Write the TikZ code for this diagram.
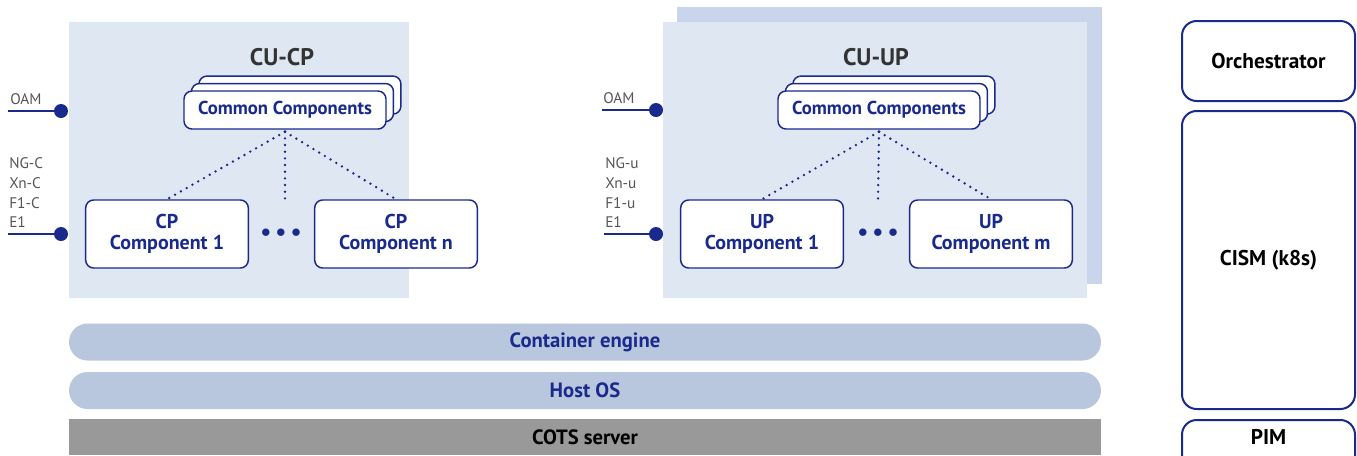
\documentclass[tikz,border=0pt]{standalone}
\usepackage{fontspec}
\setmainfont{PT Sans}
\usetikzlibrary{shadows}

\definecolor{cufill}{HTML}{DFE7F3}
\definecolor{cuback}{HTML}{C8D5EA}
\definecolor{layerfill}{HTML}{B8C7DE}
\definecolor{serverfill}{HTML}{999999}
\definecolor{navy}{HTML}{1A2A8C}
\definecolor{titlegray}{HTML}{333333}
\definecolor{portgray}{HTML}{555555}

\tikzset{
  compbox/.style={draw=navy, line width=1.1pt, fill=white, rounded corners=6pt,
    text=navy, font=\bfseries\fontsize{15}{16}\selectfont, align=center,
    minimum width=122pt, minimum height=51pt, inner sep=0pt},
  commonbox/.style={compbox, minimum width=151.5pt, minimum height=28.5pt,
    font=\bfseries\fontsize{14}{15}\selectfont,
    double copy shadow={shadow xshift=5.6pt, shadow yshift=5.6pt,
      fill=white, draw=navy, line width=1.1pt}},
  sidebox/.style={draw=navy, line width=1.5pt, rounded corners=11pt,
    font=\bfseries\fontsize{16}{17}\selectfont, minimum width=129.75pt, inner sep=0pt},
  layer/.style={fill=layerfill, rounded corners=13.9pt, minimum width=774pt,
    minimum height=27.75pt, text=navy, font=\bfseries\fontsize{15.5}{16}\selectfont},
  port/.style={circle, fill=navy, inner sep=0pt, minimum size=10.5pt},
  portlbl/.style={text=portgray, font=\fontsize{11.5}{14.8}\selectfont,
    inner sep=0pt, align=left},
  title/.style={text=titlegray, font=\bfseries\fontsize{18}{20}\selectfont},
  link/.style={draw=navy, line width=2pt, line cap=round, dash pattern=on 0pt off 5pt},
  wire/.style={draw=navy, line width=1.5pt},
  ellip/.style={text=navy, font=\fontsize{15}{16}\selectfont}
}

\begin{document}
\begin{tikzpicture}[x=0.75pt, y=-0.75pt]
  \clip (0,0) rectangle (1357,455);

  % CU-CP
  \fill[cufill] (69,22) rectangle (409,298);
  \node[title] (cptitle) at (282,57) {CU-CP};
  \node[commonbox] (cpcommon) at (285,110) {Common Components};
  \node[compbox] (cpone) at (167,234) {CP\\Component 1};
  \node[compbox] (cpn) at (396,234) {CP\\Component n};
  \node[ellip] (cpdots) at (281,233) {$\bullet\hspace{1pt}\bullet\hspace{1pt}\bullet$};
  \coordinate (cpmid) at (285,200);
  \draw[link] ([yshift=-1.5pt]cpcommon.south) -- (cpone.north);
  \draw[link] ([yshift=-1.5pt]cpcommon.south) -- (cpmid);
  \draw[link] ([yshift=-1.5pt]cpcommon.south) -- (cpn.north);

  % CU-UP (two instances)
  \fill[cuback] (677,7) rectangle (1102,284);
  \fill[cufill] (663,22) rectangle (1087,298);
  \node[title] (uptitle) at (876,57) {CU-UP};
  \node[commonbox] (upcommon) at (879,110) {Common Components};
  \node[compbox] (upone) at (762,234) {UP\\Component 1};
  \node[compbox] (upm) at (991,234) {UP\\Component m};
  \node[ellip] (updots) at (878,233) {$\bullet\hspace{1pt}\bullet\hspace{1pt}\bullet$};
  \coordinate (upmid) at (878,200);
  \draw[link] ([yshift=-1.5pt]upcommon.south) -- (upone.north);
  \draw[link] ([yshift=-1.5pt]upcommon.south) -- (upmid);
  \draw[link] ([yshift=-1.5pt]upcommon.south) -- (upm.north);

  % interfaces
  \node[port] (cpoam) at (61,111) {};
  \coordinate (cpoamend) at (8,111);
  \draw[wire] (cpoamend) -- (cpoam);
  \node[portlbl, anchor=base west] (cpoamlbl) at (10,104) {OAM};
  \node[port] (cpext) at (61,234) {};
  \coordinate (cpextend) at (8,234);
  \draw[wire] (cpextend) -- (cpext);
  \node[portlbl, anchor=south west] (cpextlbl) at (9,228) {NG-C\\Xn-C\\F1-C\\E1};

  \node[port] (upoam) at (656,110) {};
  \coordinate (upoamend) at (602,110);
  \draw[wire] (upoamend) -- (upoam);
  \node[portlbl, anchor=base west] (upoamlbl) at (603,103) {OAM};
  \node[port] (upext) at (656,234) {};
  \coordinate (upextend) at (604,234);
  \draw[wire] (upextend) -- (upext);
  \node[portlbl, anchor=south west] (upextlbl) at (605,228) {NG-u\\Xn-u\\F1-u\\E1};

  % platform layers
  \node[layer] (engine) at (585,342) {Container engine};
  \node[layer] (hostos) at (585,390.5) {Host OS};
  \node[fill=serverfill, minimum width=774pt, minimum height=27pt,
    font=\bfseries\fontsize{15.5}{16}\selectfont] (cots) at (585,437) {COTS server};

  % management
  \node[sidebox, minimum height=60pt] (orch) at (1268.5,61) {Orchestrator};
  \node[sidebox, minimum height=223.5pt] (cism) at (1268.5,260) {CISM (k8s)};
  \node[sidebox, anchor=north, text height=18.6pt, text depth=30pt] (pim) at (1268.5,419) {PIM};
\end{tikzpicture}
\end{document}
